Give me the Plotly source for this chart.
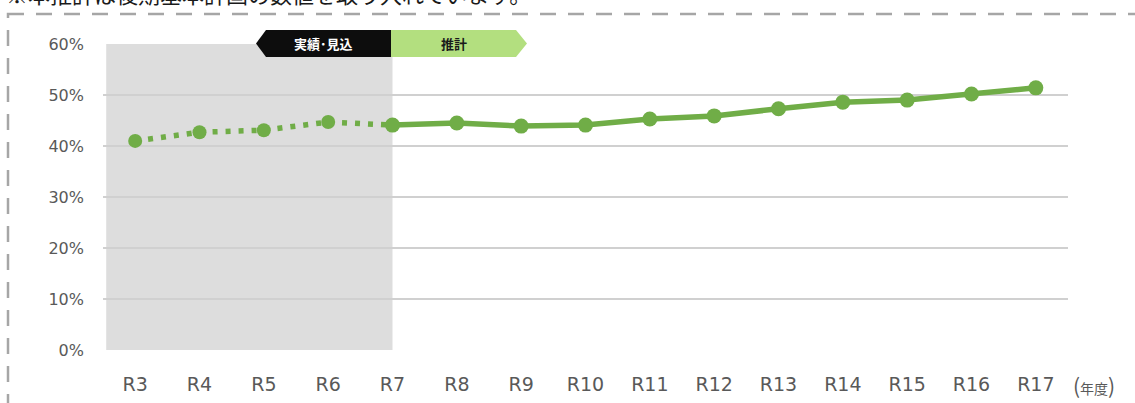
import plotly.graph_objects as go

# ---- data ----
years = ["R3", "R4", "R5", "R6", "R7", "R8", "R9", "R10", "R11", "R12",
         "R13", "R14", "R15", "R16", "R17"]
actual_years = ["R3", "R4", "R5", "R6", "R7"]
actual_values = [41.0, 42.7, 43.1, 44.7, 44.1]
forecast_years = ["R7", "R8", "R9", "R10", "R11", "R12", "R13", "R14", "R15", "R16", "R17"]
forecast_values = [44.1, 44.5, 43.9, 44.1, 45.3, 45.9, 47.3, 48.6, 49.0, 50.2, 51.4]
y_ticks = [0, 10, 20, 30, 40, 50, 60]
y_tick_text = ["0%", "10%", "20%", "30%", "40%", "50%", "60%"]
note_text = "※本推計は後期基本計画の数値を取り入れています。"
tag_actual = "実績･見込"
tag_forecast = "推計"
unit_label = "(<span style='font-size:14px'>年度</span>)"

W, H = 1135, 403
ML, MR, MT, MB = 103, 67, 44, 53
PW, PH = W - ML - MR, H - MT - MB

def px(x):
    return (x - ML) / PW

def py(y):
    return (H - MB - y) / PH

GREEN = "#70ad47"
TXT = "#595959"
JP = "Noto Sans CJK JP"

fig = go.Figure()

fig.add_trace(go.Scatter(
    x=actual_years, y=actual_values, mode="lines+markers",
    line=dict(color=GREEN, width=5.5, dash="5px,8px"),
    marker=dict(size=14, color=GREEN),
    showlegend=False, hoverinfo="skip"))
fig.add_trace(go.Scatter(
    x=forecast_years, y=forecast_values, mode="lines+markers",
    line=dict(color=GREEN, width=5.5),
    marker=dict(size=15, color=GREEN),
    showlegend=False, hoverinfo="skip"))

shapes = []
# grey shaded actual period
shapes.append(dict(type="rect", xref="x", yref="paper", x0=-0.45, x1=4, y0=0, y1=1,
                   fillcolor="#dddddd", line=dict(width=0), layer="below"))
# dashed frame
shapes.append(dict(type="rect", xref="paper", yref="paper",
                   x0=px(8), x1=px(1300), y0=py(14), y1=py(600),
                   line=dict(color="#a6a6a6", width=2.5, dash="16px,12px"),
                   fillcolor="rgba(0,0,0,0)", layer="above"))
# black tag (arrow left)
bt = f"M {px(256)} {py(43.5)} L {px(266)} {py(30)} L {px(391)} {py(30)} L {px(391)} {py(57)} L {px(266)} {py(57)} Z"
shapes.append(dict(type="path", xref="paper", yref="paper", path=bt,
                   fillcolor="#0d0d0d", line=dict(width=0)))
# green tag (arrow right)
gt = f"M {px(391)} {py(30)} L {px(516)} {py(30)} L {px(527)} {py(43.5)} L {px(516)} {py(57)} L {px(391)} {py(57)} Z"
shapes.append(dict(type="path", xref="paper", yref="paper", path=gt,
                   fillcolor="#b3df7f", line=dict(width=0)))

annotations = [
    dict(text=tag_actual, xref="paper", yref="paper", x=px(323), y=py(43.5),
         showarrow=False, font=dict(family=JP, size=13, color="white", weight="bold"),
         xanchor="center", yanchor="middle"),
    dict(text=tag_forecast, xref="paper", yref="paper", x=px(454), y=py(43.5),
         showarrow=False, font=dict(family=JP, size=13, color="#1a1a1a", weight="bold"),
         xanchor="center", yanchor="middle"),
    dict(text=unit_label, xref="paper", yref="paper", x=px(1071), y=py(385),
         showarrow=False, font=dict(family=JP, size=21, color=TXT),
         xanchor="left", yanchor="middle"),
    dict(text=note_text, xref="paper", yref="paper", x=px(4), y=py(-7),
         showarrow=False, font=dict(family=JP, size=22, color="#1a1a1a"),
         xanchor="left", yanchor="middle"),
]

fig.update_layout(
    width=W, height=H,
    margin=dict(l=ML, r=MR, t=MT, b=MB),
    paper_bgcolor="white", plot_bgcolor="white",
    shapes=shapes, annotations=annotations,
    xaxis=dict(type="category", categoryorder="array", categoryarray=years,
               range=[-0.5, 14.5], showgrid=False, zeroline=False, showline=False,
               ticks="", ticklabelstandoff=21, automargin=False,
               tickfont=dict(family="DejaVu Sans", size=19, color=TXT)),
    yaxis=dict(range=[0, 60], tickvals=y_ticks, ticktext=y_tick_text,
               showgrid=True, gridcolor="#d0d0d0", gridwidth=1.5,
               zeroline=False, showline=False, ticks="", ticklabelstandoff=18,
               automargin=False,
               tickfont=dict(family="DejaVu Sans", size=16, color=TXT)),
)

fig.write_html("out.html", config={"displayModeBar": False},
               post_script="document.body.style.margin='0';document.body.style.padding='0';")
